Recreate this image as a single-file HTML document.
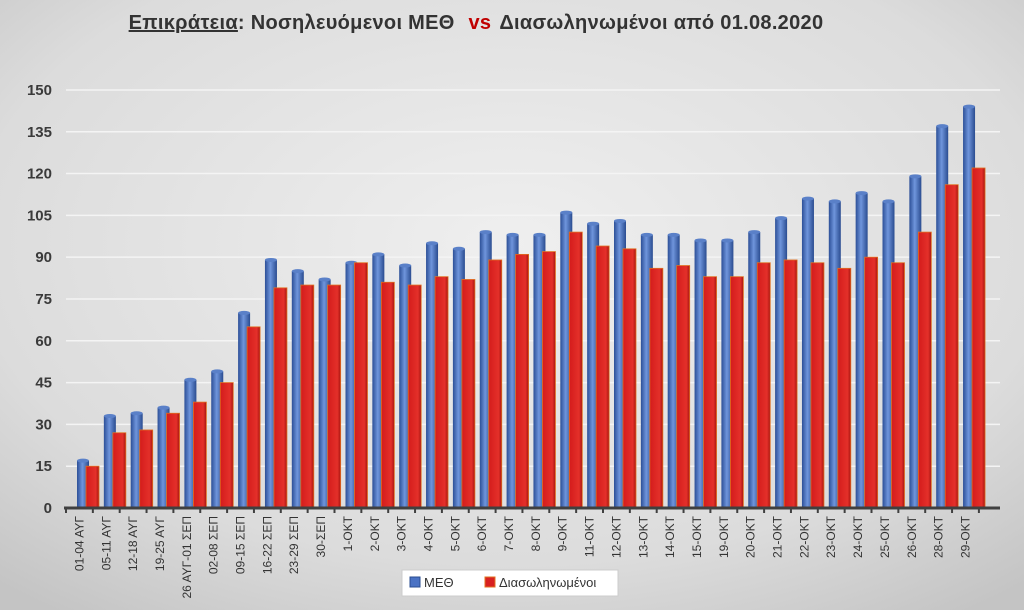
<!DOCTYPE html><html><head><meta charset="utf-8"><style>
body{margin:0;width:1024px;height:610px;overflow:hidden}
svg{display:block}
text{font-family:"Liberation Sans","DejaVu Sans",sans-serif}
</style></head><body>
<svg width="1024" height="610" xmlns="http://www.w3.org/2000/svg">
<defs>
<radialGradient id="bg" cx="0.5" cy="0.4" r="0.75">
<stop offset="0" stop-color="#efefef"/><stop offset="0.7" stop-color="#dcdcdc"/><stop offset="1" stop-color="#c4c4c4"/></radialGradient>
<linearGradient id="bl" x1="0" x2="1"><stop offset="0" stop-color="#2c4f97"/><stop offset="0.45" stop-color="#6f95dc"/><stop offset="1" stop-color="#2a4c90"/></linearGradient>
<linearGradient id="rd" x1="0" x2="1"><stop offset="0" stop-color="#d41c1c"/><stop offset="0.75" stop-color="#e4302a"/><stop offset="1" stop-color="#a81510"/></linearGradient>
</defs>
<rect width="1024" height="610" fill="url(#bg)"/>
<text x="476" y="29" text-anchor="middle" font-size="20" font-weight="bold" fill="#333" letter-spacing="0.3"><tspan text-decoration="underline">Επικράτεια</tspan>: Νοσηλευόμενοι ΜΕΘ <tspan fill="#c00000" dx="8">vs</tspan><tspan dx="8">Διασωληνωμένοι  από  01.08.2020</tspan></text>
<g id="g"></g>
</svg>
<script>
const B=[17,33,34,36,46,49,70,89,85,82,88,91,87,95,93,99,98,98,106,102,103,98,98,96,96,99,104,111,110,113,110,119,137,144];
const R=[15,27,28,34,38,45,65,79,80,80,88,81,80,83,82,89,91,92,99,94,93,86,87,83,83,88,89,88,86,90,88,99,116,122];
const L=["01-04 ΑΥΓ","05-11 ΑΥΓ","12-18 ΑΥΓ","19-25 ΑΥΓ","26 ΑΥΓ-01 ΣΕΠ","02-08 ΣΕΠ","09-15 ΣΕΠ","16-22 ΣΕΠ","23-29 ΣΕΠ","30-ΣΕΠ","1-ΟΚΤ","2-ΟΚΤ","3-ΟΚΤ","4-ΟΚΤ","5-ΟΚΤ","6-ΟΚΤ","7-ΟΚΤ","8-ΟΚΤ","9-ΟΚΤ","11-ΟΚΤ","12-ΟΚΤ","13-ΟΚΤ","14-ΟΚΤ","15-ΟΚΤ","19-ΟΚΤ","20-ΟΚΤ","21-ΟΚΤ","22-ΟΚΤ","23-ΟΚΤ","24-ΟΚΤ","25-ΟΚΤ","26-ΟΚΤ","28-ΟΚΤ","29-ΟΚΤ"];
const y0=508,k=2.787,x0=66,p=26.85;let s="";
for(let v=15;v<=150;v+=15){const y=y0-v*k;s+=`<line x1="66" x2="1000" y1="${y}" y2="${y}" stroke="#f4f4f4" stroke-width="1.5"/>`;}
for(let v=0;v<=150;v+=15){const y=y0-v*k;s+=`<text x="52" y="${y+5}" text-anchor="end" font-size="15" font-weight="bold" fill="#3a3a3a">${v}</text>`;}
B.forEach((b,i)=>{const xb=x0+11+i*p;const hb=b*k,hr=R[i]*k;
s+=`<rect x="${xb}" y="${y0-hb}" width="12" height="${hb}" fill="url(#bl)"/><ellipse cx="${xb+6}" cy="${y0-hb}" rx="6" ry="2" fill="#5a80c8"/>`;
s+=`<rect x="${xb+9}" y="${y0-hr}" width="13" height="${hr}" fill="url(#rd)" stroke="#e07020" stroke-width="0.8"/>`;
const cx=x0+p*(i+0.5);s+=`<text transform="translate(${cx+4},516) rotate(-90)" text-anchor="end" font-size="12" fill="#333">${L[i]}</text>`;});
s+=`<line x1="64" x2="1000" y1="${y0}" y2="${y0}" stroke="#404040" stroke-width="3"/>`;
for(let i=0;i<=34;i++){const x=x0+i*p;s+=`<line x1="${x}" x2="${x}" y1="${y0}" y2="${y0+5}" stroke="#404040" stroke-width="2"/>`;}
s+=`<rect x="402" y="570" width="216" height="26" fill="#fff" stroke="#ccc"/><rect x="410" y="577" width="10" height="10" fill="#4a72c4" stroke="#2a4c90"/><text x="424" y="587" font-size="13" fill="#333">ΜΕΘ</text><rect x="485" y="577" width="10" height="10" fill="#d82020" stroke="#e07020"/><text x="499" y="587" font-size="13" fill="#333">Διασωληνωμένοι</text>`;
document.getElementById("g").innerHTML=s;
</script>
</body></html>
